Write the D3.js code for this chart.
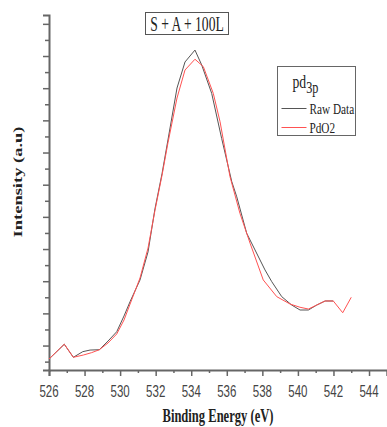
<!DOCTYPE html>
<html>
<head>
<meta charset="utf-8">
<script src="https://cdn.jsdelivr.net/npm/d3@7"></script>
<style>
  html, body { margin: 0; padding: 0; background: #fff; }
  svg { display: block; }
</style>
</head>
<body>
<svg id="chart" width="387" height="427"></svg>
<script>
// ---- data ----
const rawX = [526.00, 526.86, 527.37, 527.90, 528.31, 528.83, 529.32, 529.81, 530.22, 530.56,
              531.12, 531.57, 531.96, 532.36, 532.69, 533.20, 533.65, 534.21, 534.59, 535.15,
              535.71, 536.28, 536.56, 537.12, 537.59, 538.15, 538.53, 539.09, 539.65, 540.12,
              540.59, 541.06, 541.53, 541.99];
const rawY = [1.16, 2.08, 1.27, 1.62, 1.72, 1.74, 2.28, 2.86, 3.84, 4.73,
              6.08, 7.82, 10.50, 12.70, 14.78, 18.01, 19.63, 20.37, 19.44, 17.68,
              14.88, 12.19, 11.25, 8.98, 7.94, 6.70, 5.97, 5.04, 4.52, 4.21,
              4.21, 4.52, 4.77, 4.77];
const fitX = [526.00, 526.86, 527.37, 527.93, 528.40, 528.83, 529.32, 529.81, 530.22, 530.56,
              531.12, 531.57, 531.96, 532.36, 532.69, 533.20, 533.65, 534.21, 534.68, 535.24,
              535.62, 536.18, 536.74, 537.31, 538.05, 538.81, 539.56, 540.12, 540.59, 541.06,
              541.53, 541.99, 542.52, 543.00];
const fitY = [1.16, 2.08, 1.27, 1.41, 1.56, 1.74, 2.16, 2.72, 3.59, 4.58,
              6.20, 8.06, 10.40, 12.60, 14.60, 17.39, 19.13, 19.80, 19.34, 17.68,
              15.92, 12.50, 10.22, 8.36, 6.08, 5.04, 4.58, 4.38, 4.27, 4.52,
              4.77, 4.77, 4.04, 5.00];
const xTicks = [526, 528, 530, 532, 534, 536, 538, 540, 542, 544];
const xMinorTicks = [527, 529, 531, 533, 535, 537, 539, 541, 543];
const yMajorTicks = [2, 4, 6, 8, 10, 12, 14, 16, 18, 20, 22];
const yMinorTicks = [1, 3, 5, 7, 9, 11, 13, 15, 17, 19, 21];
const seriesNames = ["Raw Data", "PdO2"];
const seriesColors = ["#555555", "#ff5252"];

// ---- scales ----
const svg = d3.select("#chart");
const x = d3.scaleLinear().domain([526, 545]).range([49, 386.8]);
const y = d3.scaleLinear().domain([0.48, 22.55]).range([370, 15]);
const axisColor = "#666";

// ---- x axis ----
const gx = svg.append("g").attr("transform", "translate(0,370)");
gx.call(d3.axisBottom(x).tickValues(xTicks).tickSize(6).tickFormat(""));
gx.append("g").call(d3.axisBottom(x).tickValues(xMinorTicks).tickSize(3).tickFormat(""));
gx.selectAll("path.domain").attr("stroke", axisColor).attr("stroke-width", 2);
gx.selectAll(".tick line").attr("stroke", axisColor).attr("stroke-width", 1.5);
gx.selectAll("g > g > path.domain").remove();

// tick labels (condensed sans)
svg.append("g").selectAll("text").data(xTicks).join("text")
  .attr("transform", d => `translate(${x(d)},396.5) scale(0.72,1)`)
  .attr("text-anchor", "middle")
  .attr("font-family", "Liberation Sans, Arial, sans-serif")
  .attr("font-size", 16)
  .attr("fill", "#444")
  .text(d => d);

// ---- y axis ----
const gy = svg.append("g").attr("transform", "translate(49,0)");
gy.call(d3.axisLeft(y).tickValues(yMajorTicks).tickSize(6).tickFormat(""));
gy.append("g").call(d3.axisLeft(y).tickValues(yMinorTicks).tickSize(4).tickFormat(""));
gy.selectAll("path.domain").attr("stroke", axisColor).attr("stroke-width", 2);
gy.selectAll(".tick line").attr("stroke", axisColor).attr("stroke-width", 1.5);
gy.selectAll("g > g > path.domain").remove();

// ---- lines ----
const line = d3.line().x(d => x(d[0])).y(d => y(d[1]));
const rawPts = rawX.map((v, i) => [v, rawY[i]]);
const fitPts = fitX.map((v, i) => [v, fitY[i]]);
svg.append("path").datum(rawPts).attr("d", line)
  .attr("fill", "none").attr("stroke", seriesColors[0]).attr("stroke-width", 1);
svg.append("path").datum(fitPts).attr("d", line)
  .attr("fill", "none").attr("stroke", seriesColors[1]).attr("stroke-width", 1);

// ---- axis titles ----
svg.append("text")
  .attr("transform", "translate(218,422) scale(0.68,1)")
  .attr("text-anchor", "middle")
  .attr("font-family", "Liberation Serif, Times New Roman, serif")
  .attr("font-weight", "bold")
  .attr("font-size", 18.5)
  .attr("fill", "#222")
  .text("Binding Energy (eV)");

svg.append("text")
  .attr("transform", "translate(22,182) rotate(-90) scale(1,0.7)")
  .attr("text-anchor", "middle")
  .attr("font-family", "Liberation Serif, Times New Roman, serif")
  .attr("font-weight", "bold")
  .attr("font-size", 18.5)
  .attr("fill", "#222")
  .text("Intensity (a.u)");

// ---- title box ----
svg.append("rect").attr("x", 145.5).attr("y", 12.5).attr("width", 83).attr("height", 22)
  .attr("fill", "#fff").attr("stroke", "#555").attr("stroke-width", 1);
svg.append("text")
  .attr("transform", "translate(187,30.5) scale(0.68,1)")
  .attr("text-anchor", "middle")
  .attr("font-family", "Liberation Serif, Times New Roman, serif")
  .attr("font-size", 20)
  .attr("fill", "#222")
  .text("S + A + 100L");

// ---- legend ----
const lg = svg.append("g");
lg.append("rect").attr("x", 277.5).attr("y", 66.5).attr("width", 78).attr("height", 69)
  .attr("fill", "#fff").attr("stroke", "#666").attr("stroke-width", 1);
const lt = lg.append("text")
  .attr("transform", "translate(292.5,88) scale(0.72,1)")
  .attr("font-family", "Liberation Serif, Times New Roman, serif")
  .attr("font-size", 19)
  .attr("fill", "#222");
lt.append("tspan").text("pd");
lt.append("tspan").attr("dy", 4.5).attr("font-size", 17).text("3p");

seriesNames.forEach((name, i) => {
  const yy = 108.5 + i * 19;
  lg.append("line").attr("x1", 281.5).attr("x2", 306.5).attr("y1", yy).attr("y2", yy)
    .attr("stroke", seriesColors[i]).attr("stroke-width", 1);
  lg.append("text")
    .attr("transform", `translate(309.5,${yy + 5}) scale(0.75,1)`)
    .attr("font-family", "Liberation Serif, Times New Roman, serif")
    .attr("font-size", 15)
    .attr("fill", "#222")
    .text(name);
});
</script>
</body>
</html>
